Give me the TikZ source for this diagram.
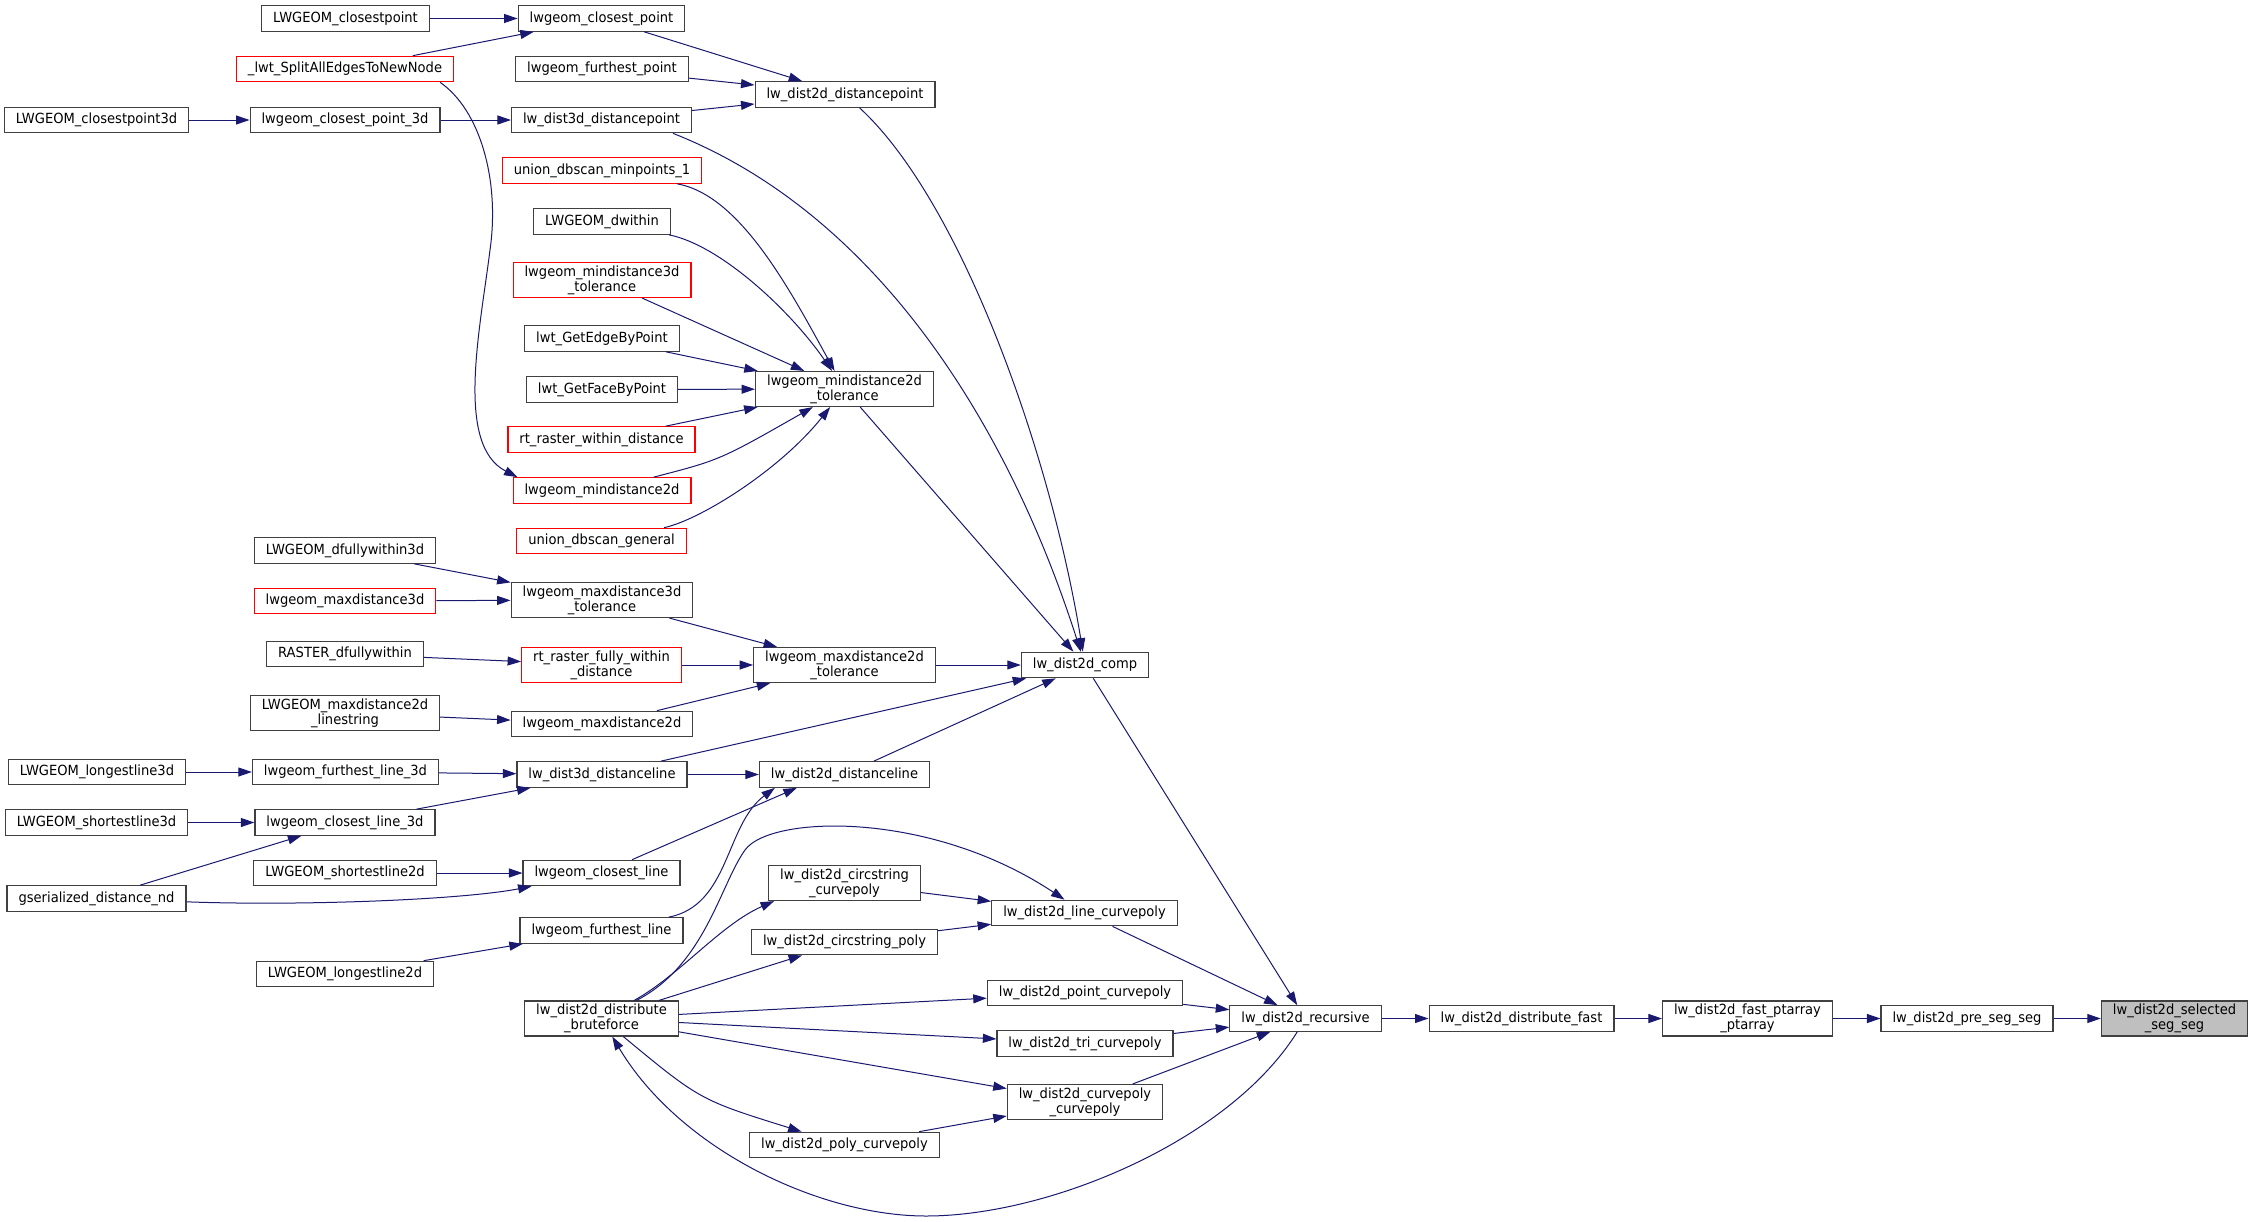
\documentclass[tikz,border=0pt]{standalone}
\usepackage{fontspec}
\setmainfont{DejaVu Sans}[FakeStretch=0.935]
\usetikzlibrary{arrows.meta}
\definecolor{edgeblue}{RGB}{25,25,112}
\tikzset{
  fn/.style={draw=black!75, fill=white, line width=1.2pt, minimum height=25.5pt,
    inner xsep=11.5pt, inner ysep=3pt, align=center, font=\fontsize{14}{15}\selectfont},
  fnred/.style={fn, draw=red},
  fnsel/.style={fn, fill=black!25},
  call/.style={draw=edgeblue, line width=1pt, -{Triangle[length=13.5pt,width=9pt]}}
}
\begin{document}
\catcode`\_=12
\begin{tikzpicture}[x=1pt,y=-1pt]
      \path[use as bounding box, fill=white] (0,0) rectangle (2253,1221);
      \draw
        (96.5,120) node[fn] (LWGEOM_closestpoint3d){LWGEOM_closestpoint3d}
        (97,772) node[fn] (LWGEOM_longestline3d){LWGEOM_longestline3d}
        (96.5,822.5) node[fn] (LWGEOM_shortestline3d){LWGEOM_shortestline3d}
        (96.5,898.5) node[fn] (gserialized_distance_nd){gserialized_distance_nd}
        (345.5,18.5) node[fn] (LWGEOM_closestpoint){LWGEOM_closestpoint}
        (345,69) node[fnred] (_lwt_SplitAllEdgesToNewNode){_lwt_SplitAllEdgesToNewNode}
        (345,120) node[fn] (lwgeom_closest_point_3d){lwgeom_closest_point_3d}
        (345,550.5) node[fn] (LWGEOM_dfullywithin3d){LWGEOM_dfullywithin3d}
        (345,601) node[fnred] (lwgeom_maxdistance3d){lwgeom_maxdistance3d}
        (345,654) node[fn] (RASTER_dfullywithin){RASTER_dfullywithin}
        (345,713) node[fn] (LWGEOM_maxdistance2d_linestring){LWGEOM_maxdistance2d\\_linestring}
        (345.5,772) node[fn] (lwgeom_furthest_line_3d){lwgeom_furthest_line_3d}
        (345,822.5) node[fn] (lwgeom_closest_line_3d){lwgeom_closest_line_3d}
        (345,873) node[fn] (LWGEOM_shortestline2d){LWGEOM_shortestline2d}
        (345,974) node[fn] (LWGEOM_longestline2d){LWGEOM_longestline2d}
        (601.5,18.5) node[fn] (lwgeom_closest_point){lwgeom_closest_point}
        (602,69) node[fn] (lwgeom_furthest_point){lwgeom_furthest_point}
        (601.5,120) node[fn] (lw_dist3d_distancepoint){lw_dist3d_distancepoint}
        (602,170.5) node[fnred] (union_dbscan_minpoints_1){union_dbscan_minpoints_1}
        (602,221.5) node[fn] (LWGEOM_dwithin){LWGEOM_dwithin}
        (602,280) node[fnred] (lwgeom_mindistance3d_tolerance){lwgeom_mindistance3d\\_tolerance}
        (602,338.5) node[fn] (lwt_GetEdgeByPoint){lwt_GetEdgeByPoint}
        (602,389.5) node[fn] (lwt_GetFaceByPoint){lwt_GetFaceByPoint}
        (601.5,439.5) node[fnred] (rt_raster_within_distance){rt_raster_within_distance}
        (602,490.5) node[fnred] (lwgeom_mindistance2d){lwgeom_mindistance2d}
        (601.5,541) node[fnred] (union_dbscan_general){union_dbscan_general}
        (602,600) node[fn] (lwgeom_maxdistance3d_tolerance){lwgeom_maxdistance3d\\_tolerance}
        (601.5,665) node[fnred] (rt_raster_fully_within_distance){rt_raster_fully_within\\_distance}
        (602,724) node[fn] (lwgeom_maxdistance2d){lwgeom_maxdistance2d}
        (602,774.5) node[fn] (lw_dist3d_distanceline){lw_dist3d_distanceline}
        (601.5,873) node[fn] (lwgeom_closest_line){lwgeom_closest_line}
        (601.5,930.5) node[fn] (lwgeom_furthest_line){lwgeom_furthest_line}
        (601.5,1018.5) node[fn] (lw_dist2d_distribute_bruteforce){lw_dist2d_distribute\\_bruteforce}
        (845,94.5) node[fn] (lw_dist2d_distancepoint){lw_dist2d_distancepoint}
        (844.5,389) node[fn] (lwgeom_mindistance2d_tolerance){lwgeom_mindistance2d\\_tolerance}
        (844.5,665) node[fn] (lwgeom_maxdistance2d_tolerance){lwgeom_maxdistance2d\\_tolerance}
        (844.5,774.5) node[fn] (lw_dist2d_distanceline){lw_dist2d_distanceline}
        (844.5,883) node[fn] (lw_dist2d_circstring_curvepoly){lw_dist2d_circstring\\_curvepoly}
        (844.5,942) node[fn] (lw_dist2d_circstring_poly){lw_dist2d_circstring_poly}
        (844.5,1145) node[fn] (lw_dist2d_poly_curvepoly){lw_dist2d_poly_curvepoly}
        (1085,665) node[fn] (lw_dist2d_comp){lw_dist2d_comp}
        (1084.5,913) node[fn] (lw_dist2d_line_curvepoly){lw_dist2d_line_curvepoly}
        (1085,993) node[fn] (lw_dist2d_point_curvepoly){lw_dist2d_point_curvepoly}
        (1085,1043.5) node[fn] (lw_dist2d_tri_curvepoly){lw_dist2d_tri_curvepoly}
        (1085,1102) node[fn] (lw_dist2d_curvepoly_curvepoly){lw_dist2d_curvepoly\\_curvepoly}
        (1305.5,1018.5) node[fn] (lw_dist2d_recursive){lw_dist2d_recursive}
        (1521.5,1018.5) node[fn] (lw_dist2d_distribute_fast){lw_dist2d_distribute_fast}
        (1747.5,1018.5) node[fn] (lw_dist2d_fast_ptarray_ptarray){lw_dist2d_fast_ptarray\\_ptarray}
        (1967,1018.5) node[fn] (lw_dist2d_pre_seg_seg){lw_dist2d_pre_seg_seg}
        (2174.5,1018.5) node[fnsel] (lw_dist2d_selected_seg_seg){lw_dist2d_selected\\_seg_seg};
      \begin{scope}[call]
        \draw (LWGEOM_closestpoint) to (lwgeom_closest_point);
        \draw (_lwt_SplitAllEdgesToNewNode) to (lwgeom_closest_point);
        \draw ([xshift=-14pt]_lwt_SplitAllEdgesToNewNode.south east) .. controls (480,110) and (500,180) .. (490,250)
          .. controls (480,330) and (455,445) .. ([xshift=5pt]lwgeom_mindistance2d.north west);
        \draw (LWGEOM_closestpoint3d) to (lwgeom_closest_point_3d);
        \draw (lwgeom_closest_point_3d) to (lw_dist3d_distancepoint);
        \draw (lwgeom_closest_point) to (lw_dist2d_distancepoint);
        \draw (lwgeom_furthest_point) to (lw_dist2d_distancepoint);
        \draw (lw_dist3d_distancepoint) to (lw_dist2d_distancepoint);
        \draw ([xshift=-19pt]lw_dist3d_distancepoint.south east) .. controls (880,215) and (1010,430) .. (lw_dist2d_comp);
        \draw (lw_dist2d_distancepoint) .. controls (960,200) and (1050,450) .. (lw_dist2d_comp);
        \draw (union_dbscan_minpoints_1) .. controls (740,195) and (790,290) .. (lwgeom_mindistance2d_tolerance);
        \draw (LWGEOM_dwithin) .. controls (720,245) and (790,310) .. (lwgeom_mindistance2d_tolerance);
        \draw (lwgeom_mindistance3d_tolerance) to (lwgeom_mindistance2d_tolerance);
        \draw (lwt_GetEdgeByPoint) to (lwgeom_mindistance2d_tolerance);
        \draw (lwt_GetFaceByPoint) to (lwgeom_mindistance2d_tolerance);
        \draw (rt_raster_within_distance) to (lwgeom_mindistance2d_tolerance);
        \draw (lwgeom_mindistance2d) .. controls (720,460) .. (lwgeom_mindistance2d_tolerance);
        \draw (union_dbscan_general) .. controls (700,520) and (780,470) .. (lwgeom_mindistance2d_tolerance);
        \draw (lwgeom_mindistance2d_tolerance) to (lw_dist2d_comp);
        \draw (LWGEOM_dfullywithin3d) to (lwgeom_maxdistance3d_tolerance);
        \draw (lwgeom_maxdistance3d) to (lwgeom_maxdistance3d_tolerance);
        \draw (lwgeom_maxdistance3d_tolerance) to (lwgeom_maxdistance2d_tolerance);
        \draw (RASTER_dfullywithin) to (rt_raster_fully_within_distance);
        \draw (rt_raster_fully_within_distance) to (lwgeom_maxdistance2d_tolerance);
        \draw (LWGEOM_maxdistance2d_linestring) to (lwgeom_maxdistance2d);
        \draw (lwgeom_maxdistance2d) to (lwgeom_maxdistance2d_tolerance);
        \draw (lwgeom_maxdistance2d_tolerance) to (lw_dist2d_comp);
        \draw (lw_dist3d_distanceline) to (lw_dist2d_comp);
        \draw (lw_dist2d_distanceline) to (lw_dist2d_comp);
        \draw (LWGEOM_longestline3d) to (lwgeom_furthest_line_3d);
        \draw (lwgeom_furthest_line_3d) to (lw_dist3d_distanceline);
        \draw (lwgeom_closest_line_3d) to (lw_dist3d_distanceline);
        \draw (LWGEOM_shortestline3d) to (lwgeom_closest_line_3d);
        \draw (gserialized_distance_nd) to (lwgeom_closest_line_3d);
        \draw (gserialized_distance_nd) .. controls (300,906) and (460,900) .. (lwgeom_closest_line);
        \draw (LWGEOM_shortestline2d) to (lwgeom_closest_line);
        \draw (lw_dist3d_distanceline) to (lw_dist2d_distanceline);
        \draw (lwgeom_closest_line) to ([xshift=38pt]lw_dist2d_distanceline.south west);
        \draw (lwgeom_furthest_line) .. controls (730,905) and (725,825) .. ([xshift=16pt]lw_dist2d_distanceline.south west);
        \draw (LWGEOM_longestline2d) to (lwgeom_furthest_line);
        \draw (lw_dist2d_distribute_bruteforce) .. controls (705,965) and (720,885) .. (745,850)
          .. controls (770,815) and (930,810) .. (lw_dist2d_line_curvepoly);
        \draw (lw_dist2d_distribute_bruteforce) .. controls (680,975) and (720,925) .. ([xshift=6pt]lw_dist2d_circstring_curvepoly.south west);
        \draw (lw_dist2d_distribute_bruteforce) to (lw_dist2d_circstring_poly);
        \draw (lw_dist2d_distribute_bruteforce) to (lw_dist2d_point_curvepoly);
        \draw (lw_dist2d_distribute_bruteforce) to (lw_dist2d_tri_curvepoly);
        \draw (lw_dist2d_distribute_bruteforce) to (lw_dist2d_curvepoly_curvepoly);
        \draw (lw_dist2d_distribute_bruteforce) .. controls (700,1100) .. (lw_dist2d_poly_curvepoly);
        \draw (lw_dist2d_circstring_curvepoly) to (lw_dist2d_line_curvepoly);
        \draw (lw_dist2d_circstring_poly) to (lw_dist2d_line_curvepoly);
        \draw (lw_dist2d_line_curvepoly) to (lw_dist2d_recursive);
        \draw (lw_dist2d_point_curvepoly) to (lw_dist2d_recursive);
        \draw (lw_dist2d_tri_curvepoly) to (lw_dist2d_recursive);
        \draw (lw_dist2d_curvepoly_curvepoly) to (lw_dist2d_recursive);
        \draw (lw_dist2d_poly_curvepoly) to (lw_dist2d_curvepoly_curvepoly);
        \draw (lw_dist2d_comp) to (lw_dist2d_recursive);
        \draw (lw_dist2d_recursive) .. controls (1230,1140) and (1050,1216) .. (926,1216)
          .. controls (820,1216) and (680,1150) .. (lw_dist2d_distribute_bruteforce);
        \draw (lw_dist2d_recursive) to (lw_dist2d_distribute_fast);
        \draw (lw_dist2d_distribute_fast) to (lw_dist2d_fast_ptarray_ptarray);
        \draw (lw_dist2d_fast_ptarray_ptarray) to (lw_dist2d_pre_seg_seg);
        \draw (lw_dist2d_pre_seg_seg) to (lw_dist2d_selected_seg_seg);
      \end{scope}
    \end{tikzpicture}
\end{document}
